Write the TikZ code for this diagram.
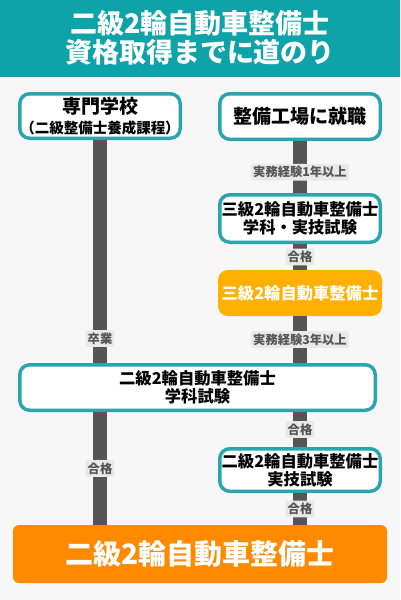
\documentclass[tikz,border=0pt]{standalone}
\usepackage{fontspec}
\setmainfont{Noto Sans CJK JP}
\usepackage{xcolor}
\definecolor{headteal}{HTML}{0EA2A9}
\definecolor{boxteal}{HTML}{2AA5AE}
\definecolor{pagebg}{HTML}{F7F7F7}
\definecolor{barcol}{HTML}{555555}
\definecolor{lblbg}{HTML}{E9E9E9}
\definecolor{amber}{HTML}{FFB000}
\definecolor{deeporange}{HTML}{FF8A00}

\begin{document}
\begin{tikzpicture}[x=1pt, y=-1pt,
  every node/.style={font=\bfseries, align=center, inner sep=0pt},
  box/.style={draw=boxteal, line width=3.5pt, rounded corners=10pt, fill=white,
              minimum width=160.5pt, font=\fontsize{16.3}{18}\selectfont\bfseries},
  bar/.style={draw=barcol, line width=14pt},
  lbl/.style={fill=lblbg, text=barcol, rounded corners=2pt, inner xsep=2pt, inner ysep=2.5pt,
              font=\fontsize{12.3}{14}\selectfont\bfseries}]
  % background and header
  \fill[pagebg] (0,0) rectangle (400,600);
  \fill[headteal] (0,0) rectangle (400,77);
  \node[text=white, font=\fontsize{27}{29}\selectfont\bfseries] (title) at (200,38)
       {二級2輪自動車整備士\\資格取得までに道のり};

  % boxes
  \node[box, minimum height=44.5pt, font=\fontsize{19}{19}\selectfont\bfseries] (school) at (100,116)
       {専門学校\\[1pt]{\fontsize{14.5}{16}\selectfont （二級整備士養成課程）}};
  \node[box, minimum height=45.5pt, font=\fontsize{19}{21}\selectfont\bfseries] (work) at (300,116.5) {整備工場に就職};
  \node[box, minimum height=47.5pt] (exam3) at (300,218.5) {三級2輪自動車整備士\\学科・実技試験};
  \node[fill=amber, rounded corners=10pt, minimum width=164pt, minimum height=46pt, text=white,
        font=\fontsize{16.3}{18}\selectfont\bfseries] (lic3) at (300,293) {三級2輪自動車整備士};
  \node[box, minimum width=355.5pt, minimum height=45.5pt] (exam2a) at (197.5,387.5) {二級2輪自動車整備士\\学科試験};
  \node[box, minimum height=42.5pt] (exam2b) at (300,470) {二級2輪自動車整備士\\実技試験};
  \node[fill=deeporange, rounded corners=6pt, minimum width=374pt, minimum height=58pt, text=white,
        font=\fontsize{28}{30}\selectfont\bfseries] (lic2) at (200,554) {二級2輪自動車整備士};

  % left route
  \draw[bar] (school) -- node[lbl, pos=0.89]{卒業} (school |- exam2a.north);
  \draw[bar] (school |- exam2a.south) -- node[lbl]{合格} (school |- lic2.north);
  % right route
  \draw[bar] (work) -- node[lbl, pos=0.6]{実務経験1年以上} (exam3);
  \draw[bar] (exam3) -- node[lbl]{合格} (lic3);
  \draw[bar] (lic3) -- node[lbl]{実務経験3年以上} (lic3 |- exam2a.north);
  \draw[bar] (lic3 |- exam2a.south) -- node[lbl]{合格} (exam2b);
  \draw[bar] (exam2b) -- node[lbl]{合格} (exam2b |- lic2.north);
\end{tikzpicture}
\end{document}
